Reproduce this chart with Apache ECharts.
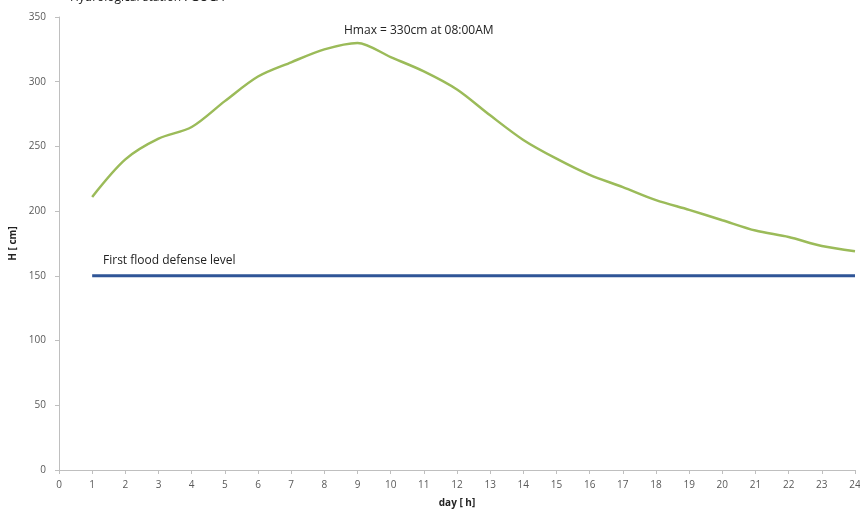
<!DOCTYPE html>
<html><head><meta charset="utf-8">
<script src="https://cdn.jsdelivr.net/npm/echarts@6/dist/echarts.min.js"></script>
<style>html,body{margin:0;padding:0;background:#fff}#c{width:860px;height:511px}</style>
</head><body><div id="c"></div>
<script>
const hours = [1,2,3,4,5,6,7,8,9,10,11,12,13,14,15,16,17,18,19,20,21,22,23,24];
const waterLevel = [211,240,256,265,285,304,315,325,330,319,308,294,274,255,240.5,228,218.6,208.5,201,193,185,180,173,169];
const defenseLevel = [150,150,150,150,150,150,150,150,150,150,150,150,150,150,150,150,150,150,150,150,150,150,150,150];
const yTicks = [0,50,100,150,200,250,300,350];
const titleText = 'Hydrological station : GOCA';
const hmaxText = 'Hmax = 330cm at 08:00AM';
const defenseText = 'First flood defense level';

const font = "'Open Sans', 'Liberation Sans', sans-serif";
const chart = echarts.init(document.getElementById('c'));
chart.setOption({
  animation: false,
  backgroundColor: '#fff',
  grid: {left: 59, right: 5, top: 17, bottom: 41, containLabel: false, outerBoundsMode: 'none'},
  xAxis: {
    type: 'value', min: 0, max: 24, interval: 1,
    name: 'day [ h]', nameLocation: 'middle', nameGap: 28,
    nameTextStyle: {fontFamily: font, fontSize: 10, fontWeight: 'bold', color: '#222'},
    axisLine: {lineStyle: {color: '#bfbfbf'}},
    axisTick: {show: true, length: 4, lineStyle: {color: '#bfbfbf'}},
    axisLabel: {fontFamily: font, fontSize: 10, color: '#595959', margin: 10},
    splitLine: {show: false}
  },
  yAxis: {
    type: 'value', min: yTicks[0], max: yTicks[yTicks.length-1], interval: 50,
    name: 'H [ cm]', nameLocation: 'middle', nameGap: 41, nameRotate: 90,
    nameTextStyle: {fontFamily: font, fontSize: 10, fontWeight: 'bold', color: '#222'},
    axisLine: {show: true, lineStyle: {color: '#bfbfbf'}},
    axisTick: {show: true, length: 4, lineStyle: {color: '#bfbfbf'}},
    axisLabel: {fontFamily: font, fontSize: 10, color: '#595959', margin: 13},
    splitLine: {show: false}
  },
  graphic: [
    {type: 'text', left: 70, top: -8, style: {text: titleText, font: "12px 'Open Sans', sans-serif", fill: '#222'}},
    {type: 'text', left: 344, top: 25, style: {text: hmaxText, font: "12px 'Open Sans', sans-serif", fill: '#222'}},
    {type: 'text', left: 103, top: 255, style: {text: defenseText, font: "12px 'Open Sans', sans-serif", fill: '#222'}}
  ],
  series: [
    {
      type: 'line', data: hours.map((h,i)=>[h, defenseLevel[i]]),
      showSymbol: false, lineStyle: {color: '#2f5597', width: 3}, z: 2
    },
    {
      type: 'line', data: hours.map((h,i)=>[h, waterLevel[i]]),
      showSymbol: false, smooth: 0.3, lineStyle: {color: '#9bbb59', width: 2.5}, z: 3
    }
  ]
});
</script></body></html>
